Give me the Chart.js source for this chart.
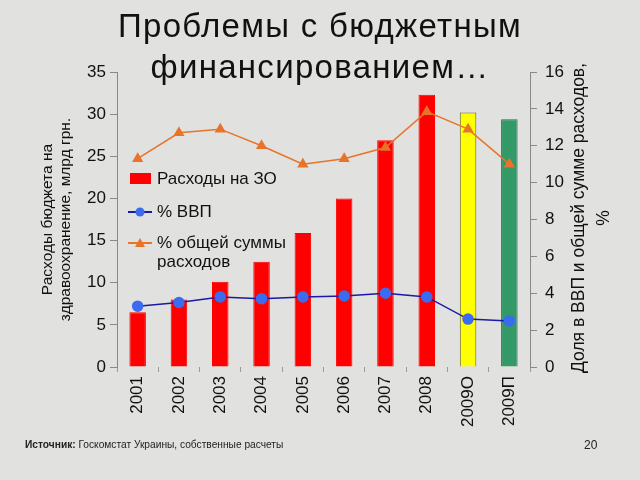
<!DOCTYPE html>
<html>
<head>
<meta charset="utf-8">
<script src="https://cdn.jsdelivr.net/npm/chart.js@4"></script>
<style>
  html, body { margin: 0; padding: 0; }
  body { width: 640px; height: 480px; background: #e1e1df; position: relative; overflow: hidden; font-family: Arial, "Liberation Sans", sans-serif; }
  #title { position: absolute; left: 0; top: 5px; width: 640px; text-align: center; font-size: 33px; letter-spacing: 1.3px; line-height: 41px; color: #111; }
  #source { position: absolute; left: 25px; top: 439px; font-size: 10.2px; color: #222; }
  #page { position: absolute; left: 584px; top: 438px; font-size: 12px; color: #222; }
  #chartBox { position: absolute; left: 0; top: 0; width: 640px; height: 480px; }
</style>
</head>
<body>
<div id="chartBox"><canvas id="healthChart" width="640" height="480"></canvas></div>
<div id="title">Проблемы с бюджетным<br>финансированием…</div>
<div id="source"><b>Источник:</b> Госкомстат Украины, собственные расчеты</div>
<div id="page">20</div>
<script>
const years = ["2001", "2002", "2003", "2004", "2005", "2006", "2007", "2008", "2009О", "2009П"];
const spending = [6.5, 8.0, 10.1, 12.5, 15.9, 20.0, 26.9, 32.3, 30.2, 29.4]; // млрд грн.
const shareGdp = [3.3, 3.5, 3.8, 3.7, 3.8, 3.85, 4.0, 3.8, 2.6, 2.5];
const shareTotal = [11.3, 12.7, 12.9, 12.0, 11.0, 11.3, 11.9, 13.85, 12.9, 11.0];

const barColors = ["#ff0000", "#ff0000", "#ff0000", "#ff0000", "#ff0000", "#ff0000", "#ff0000", "#ff0000", "#ffff00", "#339966"];
const barBorders = ["#ff0000", "#ff0000", "#ff0000", "#ff0000", "#ff0000", "#ff0000", "#ff0000", "#ff0000", "#666633", "#2a6e4a"];

const ctx = document.getElementById("healthChart").getContext("2d");

// legend sits inside the plot, top-left, like the slide
const insideLegend = {
  id: "insideLegend",
  afterDraw(chart) {
    const c = chart.ctx;
    const ds = chart.data.datasets;
    const x0 = chart.chartArea.left + 13;
    c.save();
    c.font = "17px Arial";
    c.textBaseline = "middle";
    // bar entry
    c.fillStyle = ds[0].backgroundColor[0];
    c.fillRect(x0, 173, 21, 11);
    c.fillStyle = "#111";
    c.fillText(ds[0].label, x0 + 27, 179);
    // line entries
    const rows = [[ds[1], 212], [ds[2], 243]];
    rows.forEach(([d, y]) => {
      c.strokeStyle = d.borderColor;
      c.lineWidth = 2;
      c.beginPath();
      c.moveTo(x0 - 2, y);
      c.lineTo(x0 + 22, y);
      c.stroke();
      c.fillStyle = d.pointBackgroundColor;
      c.beginPath();
      if (d.pointStyle === "triangle") {
        c.moveTo(x0 + 10, y - 5);
        c.lineTo(x0 + 15, y + 4);
        c.lineTo(x0 + 5, y + 4);
        c.closePath();
      } else {
        c.arc(x0 + 10, y, 4.5, 0, Math.PI * 2);
      }
      c.fill();
      c.fillStyle = "#111";
      const lines = Array.isArray(d.legendText) ? d.legendText : [d.legendText];
      lines.forEach((t, i) => c.fillText(t, x0 + 27, y + i * 19));
    });
    // right axis title, reads bottom to top
    c.font = "17.5px Arial";
    c.textAlign = "center";
    c.translate(579, 218);
    c.rotate(-Math.PI / 2);
    c.fillText("Доля в ВВП и общей сумме расходов,", 0, 0);
    c.fillText("%", 0, 25);
    c.restore();
  }
};

const chart = new Chart(ctx, {
  type: "bar",
  data: {
    labels: years,
    datasets: [
      {
        type: "bar",
        label: "Расходы на ЗО",
        data: spending,
        backgroundColor: barColors,
        borderColor: barBorders,
        borderWidth: 1,
        barPercentage: 0.4,
        categoryPercentage: 1,
        yAxisID: "y",
        order: 2
      },
      {
        type: "line",
        label: "% ВВП",
        legendText: "% ВВП",
        data: shareGdp,
        borderColor: "#1a1aa8",
        backgroundColor: "#3b6cf0",
        pointBackgroundColor: "#3b6cf0",
        pointBorderColor: "#3b6cf0",
        pointStyle: "circle",
        pointRadius: 5,
        borderWidth: 1.5,
        tension: 0,
        yAxisID: "y1",
        order: 1
      },
      {
        type: "line",
        label: "% общей суммы расходов",
        legendText: ["% общей суммы", "расходов"],
        data: shareTotal,
        borderColor: "#e8732a",
        backgroundColor: "#e8732a",
        pointBackgroundColor: "#e8732a",
        pointBorderColor: "#e8732a",
        pointStyle: "triangle",
        pointRadius: 5,
        borderWidth: 1.5,
        tension: 0,
        yAxisID: "y1",
        order: 0
      }
    ]
  },
  options: {
    responsive: false,
    animation: false,
    layout: { padding: { top: 72, left: 38, right: 0, bottom: 0 } },
    plugins: {
      legend: { display: false },
      tooltip: { enabled: false },
      title: { display: false }
    },
    scales: {
      x: {
        grid: { display: true, drawOnChartArea: false, offset: true, tickLength: 5, color: "#999" },
        border: { display: false },
        ticks: {
          maxRotation: 90, minRotation: 90,
          color: "#111",
          font: { family: "Arial", size: 17 },
          padding: 4
        },
        afterFit(scale) { scale.height = 113; }
      },
      y: {
        position: "left",
        min: 0, max: 35,
        ticks: { stepSize: 5, color: "#111", font: { family: "Arial", size: 17 }, padding: 4 },
        grid: { drawOnChartArea: false, tickLength: 7, color: "#888" },
        border: { display: true, color: "#888" },
        title: {
          display: true,
          text: ["Расходы бюджета на", "здравоохранение, млрд грн."],
          color: "#111",
          font: { family: "Arial", size: 15.5 },
          padding: { top: 0, bottom: 6 }
        },
        afterFit(scale) { scale.width = 79; }
      },
      y1: {
        position: "right",
        min: 0, max: 16,
        ticks: { stepSize: 2, color: "#111", font: { family: "Arial", size: 17 }, padding: 8 },
        grid: { drawOnChartArea: false, tickLength: 7, color: "#888" },
        border: { display: true, color: "#888" },
        afterFit(scale) { scale.width = 110; }
      }
    }
  },
  plugins: [insideLegend]
});
</script>
</body>
</html>
